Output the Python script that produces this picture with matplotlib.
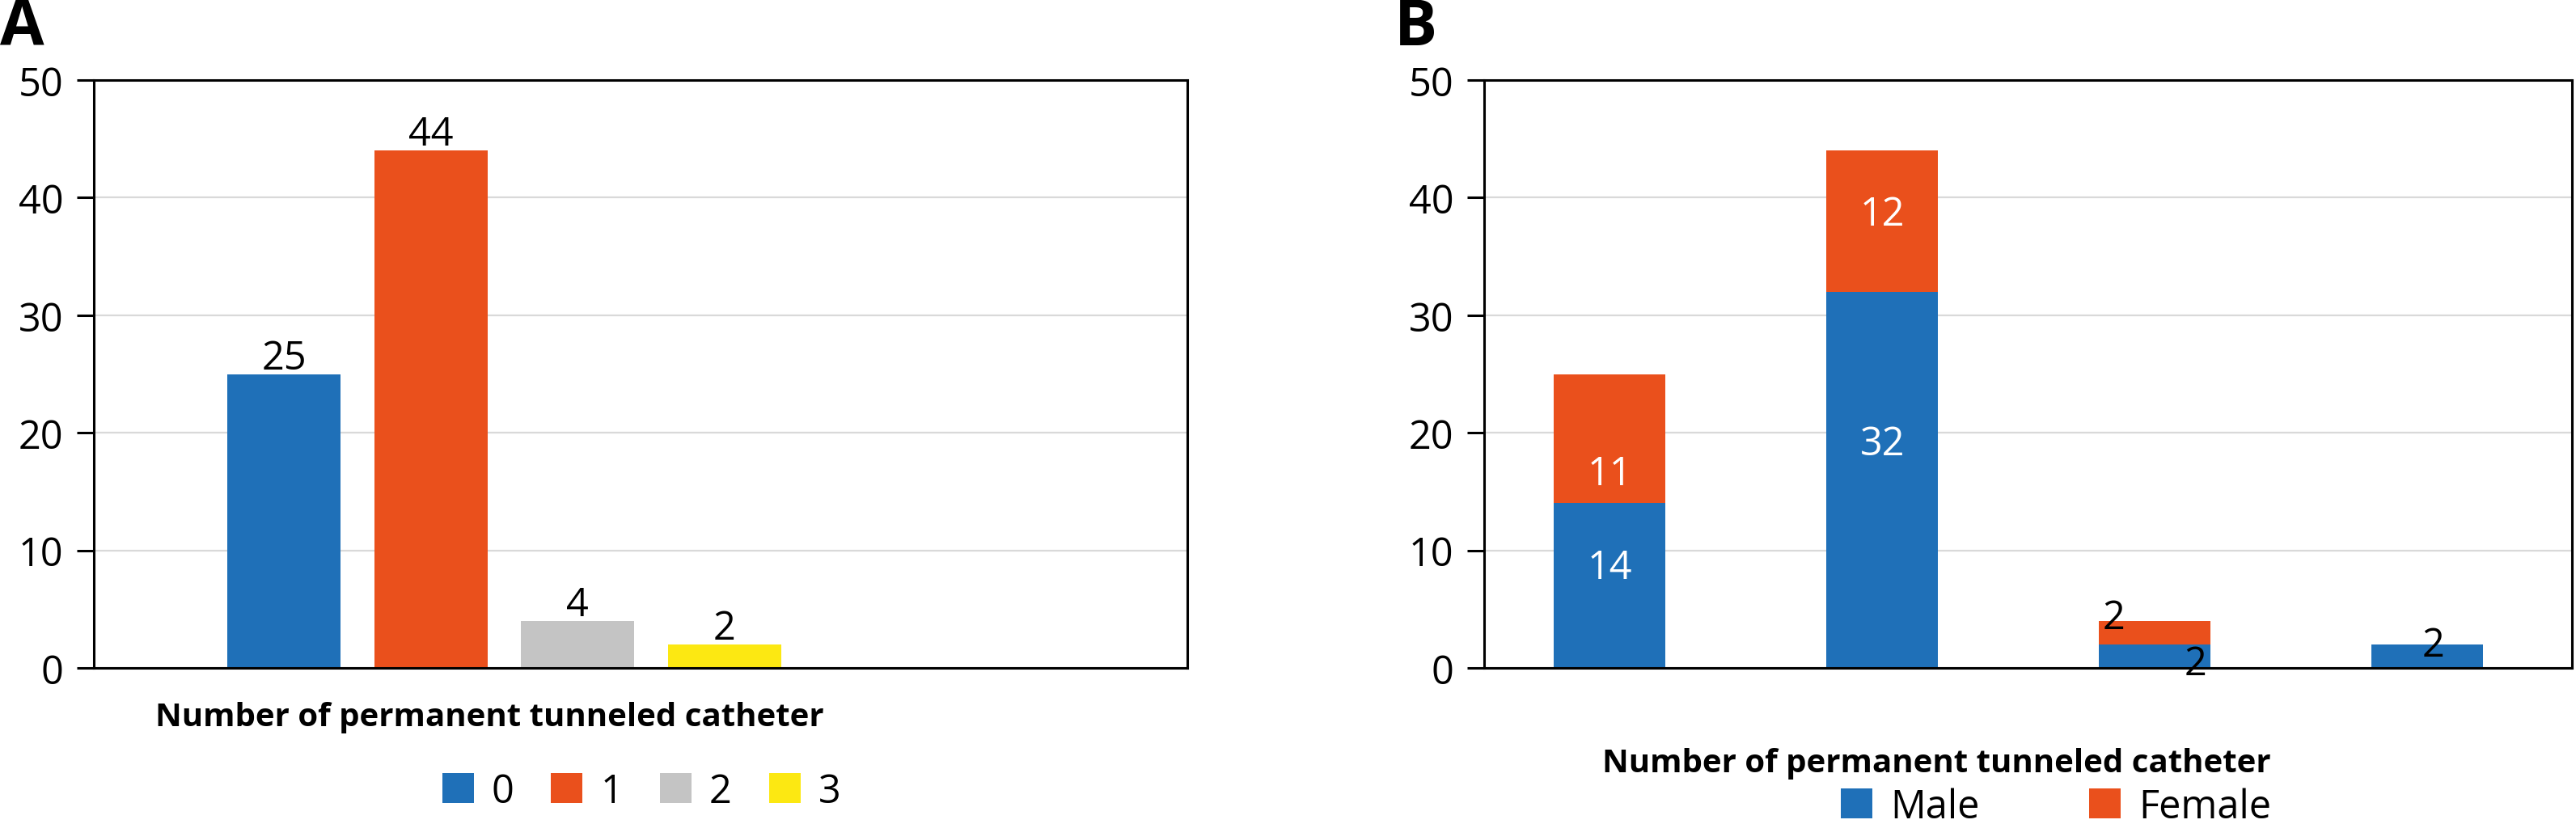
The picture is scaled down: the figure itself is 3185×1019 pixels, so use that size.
import matplotlib
matplotlib.use("Agg")
import matplotlib.pyplot as plt
from matplotlib.patches import Patch
import numpy as np

plt.rcParams['font.family'] = ['Open Sans', 'DejaVu Sans']

# ---- data ----
a_categories = ["0", "1", "2", "3"]
a_values = [25, 44, 4, 2]
a_colors = ["#1F70B8", "#EA501C", "#C4C4C4", "#FCE812"]

b_series = ["Male", "Female"]
b_male = [14, 32, 2, 2]
b_female = [11, 12, 2, 0]
b_colors = ["#1F70B8", "#EA501C"]

xlabel_text = "Number of permanent tunneled catheter"
yticks = [0, 10, 20, 30, 40, 50]

W, H = 3185, 1020
fig = plt.figure(figsize=(W / 100, H / 100), dpi=100)

def fx(px):
    return px / W

def fy(py):
    return 1 - py / H

ax_bottom = fy(827)
ax_height = fy(100) - fy(827)
axA = fig.add_axes([fx(116), ax_bottom, fx(1468) - fx(116), ax_height])
axB = fig.add_axes([fx(1835), ax_bottom, fx(3180) - fx(1835), ax_height])

FS = 35
for ax in (axA, axB):
    ax.set_ylim(0, 50)
    ax.set_yticks(yticks)
    ax.set_xticks([])
    ax.yaxis.grid(True, color="#D9D9D9", linewidth=1.6)
    ax.set_axisbelow(True)
    for s in ax.spines.values():
        s.set_linewidth(2.2)
        s.set_color("black")
    ax.tick_params(axis="y", direction="out", length=15, width=2.2,
                   labelsize=FS, pad=12)

# ---- Panel A ----
xa = np.arange(len(a_values))
axA.bar(xa, a_values, width=0.77, color=a_colors)
axA.set_xlim(-1.295, 6.15)
for x, v in zip(xa, a_values):
    axA.annotate(str(v), (x, v), xytext=(0, 5), textcoords="offset points",
                 ha="center", va="baseline", fontsize=FS, color="black")

# ---- Panel B ----
xb = np.arange(len(b_male))
axB.bar(xb, b_male, width=0.41, color=b_colors[0])
axB.bar(xb, b_female, width=0.41, bottom=b_male, color=b_colors[1])
axB.set_xlim(-0.46, 3.53)

# label nudges (value units) to follow the reference placement
male_dy = [1.5, 3.0]
female_dy = [-3.0, 0.6]
for i in range(2):
    m, f = b_male[i], b_female[i]
    axB.text(i, m / 2 + male_dy[i], str(m), ha="center", va="center",
             fontsize=FS, color="white")
    axB.text(i, m + f / 2 + female_dy[i], str(f), ha="center", va="center",
             fontsize=FS, color="white")
# small values
axB.text(2 - 0.15, b_male[2] + b_female[2] + 0.25, str(b_female[2]),
         ha="center", va="center", fontsize=FS, color="black")
axB.text(2 + 0.15, 0.3, str(b_male[2]), ha="center", va="center",
         fontsize=FS, color="black")
axB.text(3 + 0.02, b_male[3] - 0.1, str(b_male[3]), ha="center", va="center",
         fontsize=FS, color="black")

# ---- x labels ----
fig.text(fx(605), fy(888), xlabel_text, ha="center", va="center",
         fontsize=29, fontweight="bold")
fig.text(fx(2394), fy(945), xlabel_text, ha="center", va="center",
         fontsize=29, fontweight="bold")

# ---- panel letters ----
fig.text(fx(0), fy(-4), "A", ha="left", va="top", fontsize=57,
         fontweight="bold")
fig.text(fx(1724), fy(-4), "B", ha="left", va="top", fontsize=57,
         fontweight="bold")

# ---- legends ----
hA = [Patch(facecolor=c, edgecolor="none") for c in a_colors]
fig.legend(hA, a_categories, loc="center", bbox_to_anchor=(fx(793), fy(980)),
           ncol=4, frameon=False, fontsize=FS, handlelength=0.8,
           handleheight=0.8, handletextpad=0.45, columnspacing=0.95)
hB = [Patch(facecolor=c, edgecolor="none") for c in b_colors]
fig.legend(hB, b_series, loc="center", bbox_to_anchor=(fx(2542), fy(999)),
           ncol=2, frameon=False, fontsize=FS, handlelength=0.8,
           handleheight=0.8, handletextpad=0.45, columnspacing=2.8)

fig.savefig("out.png", dpi=100)
